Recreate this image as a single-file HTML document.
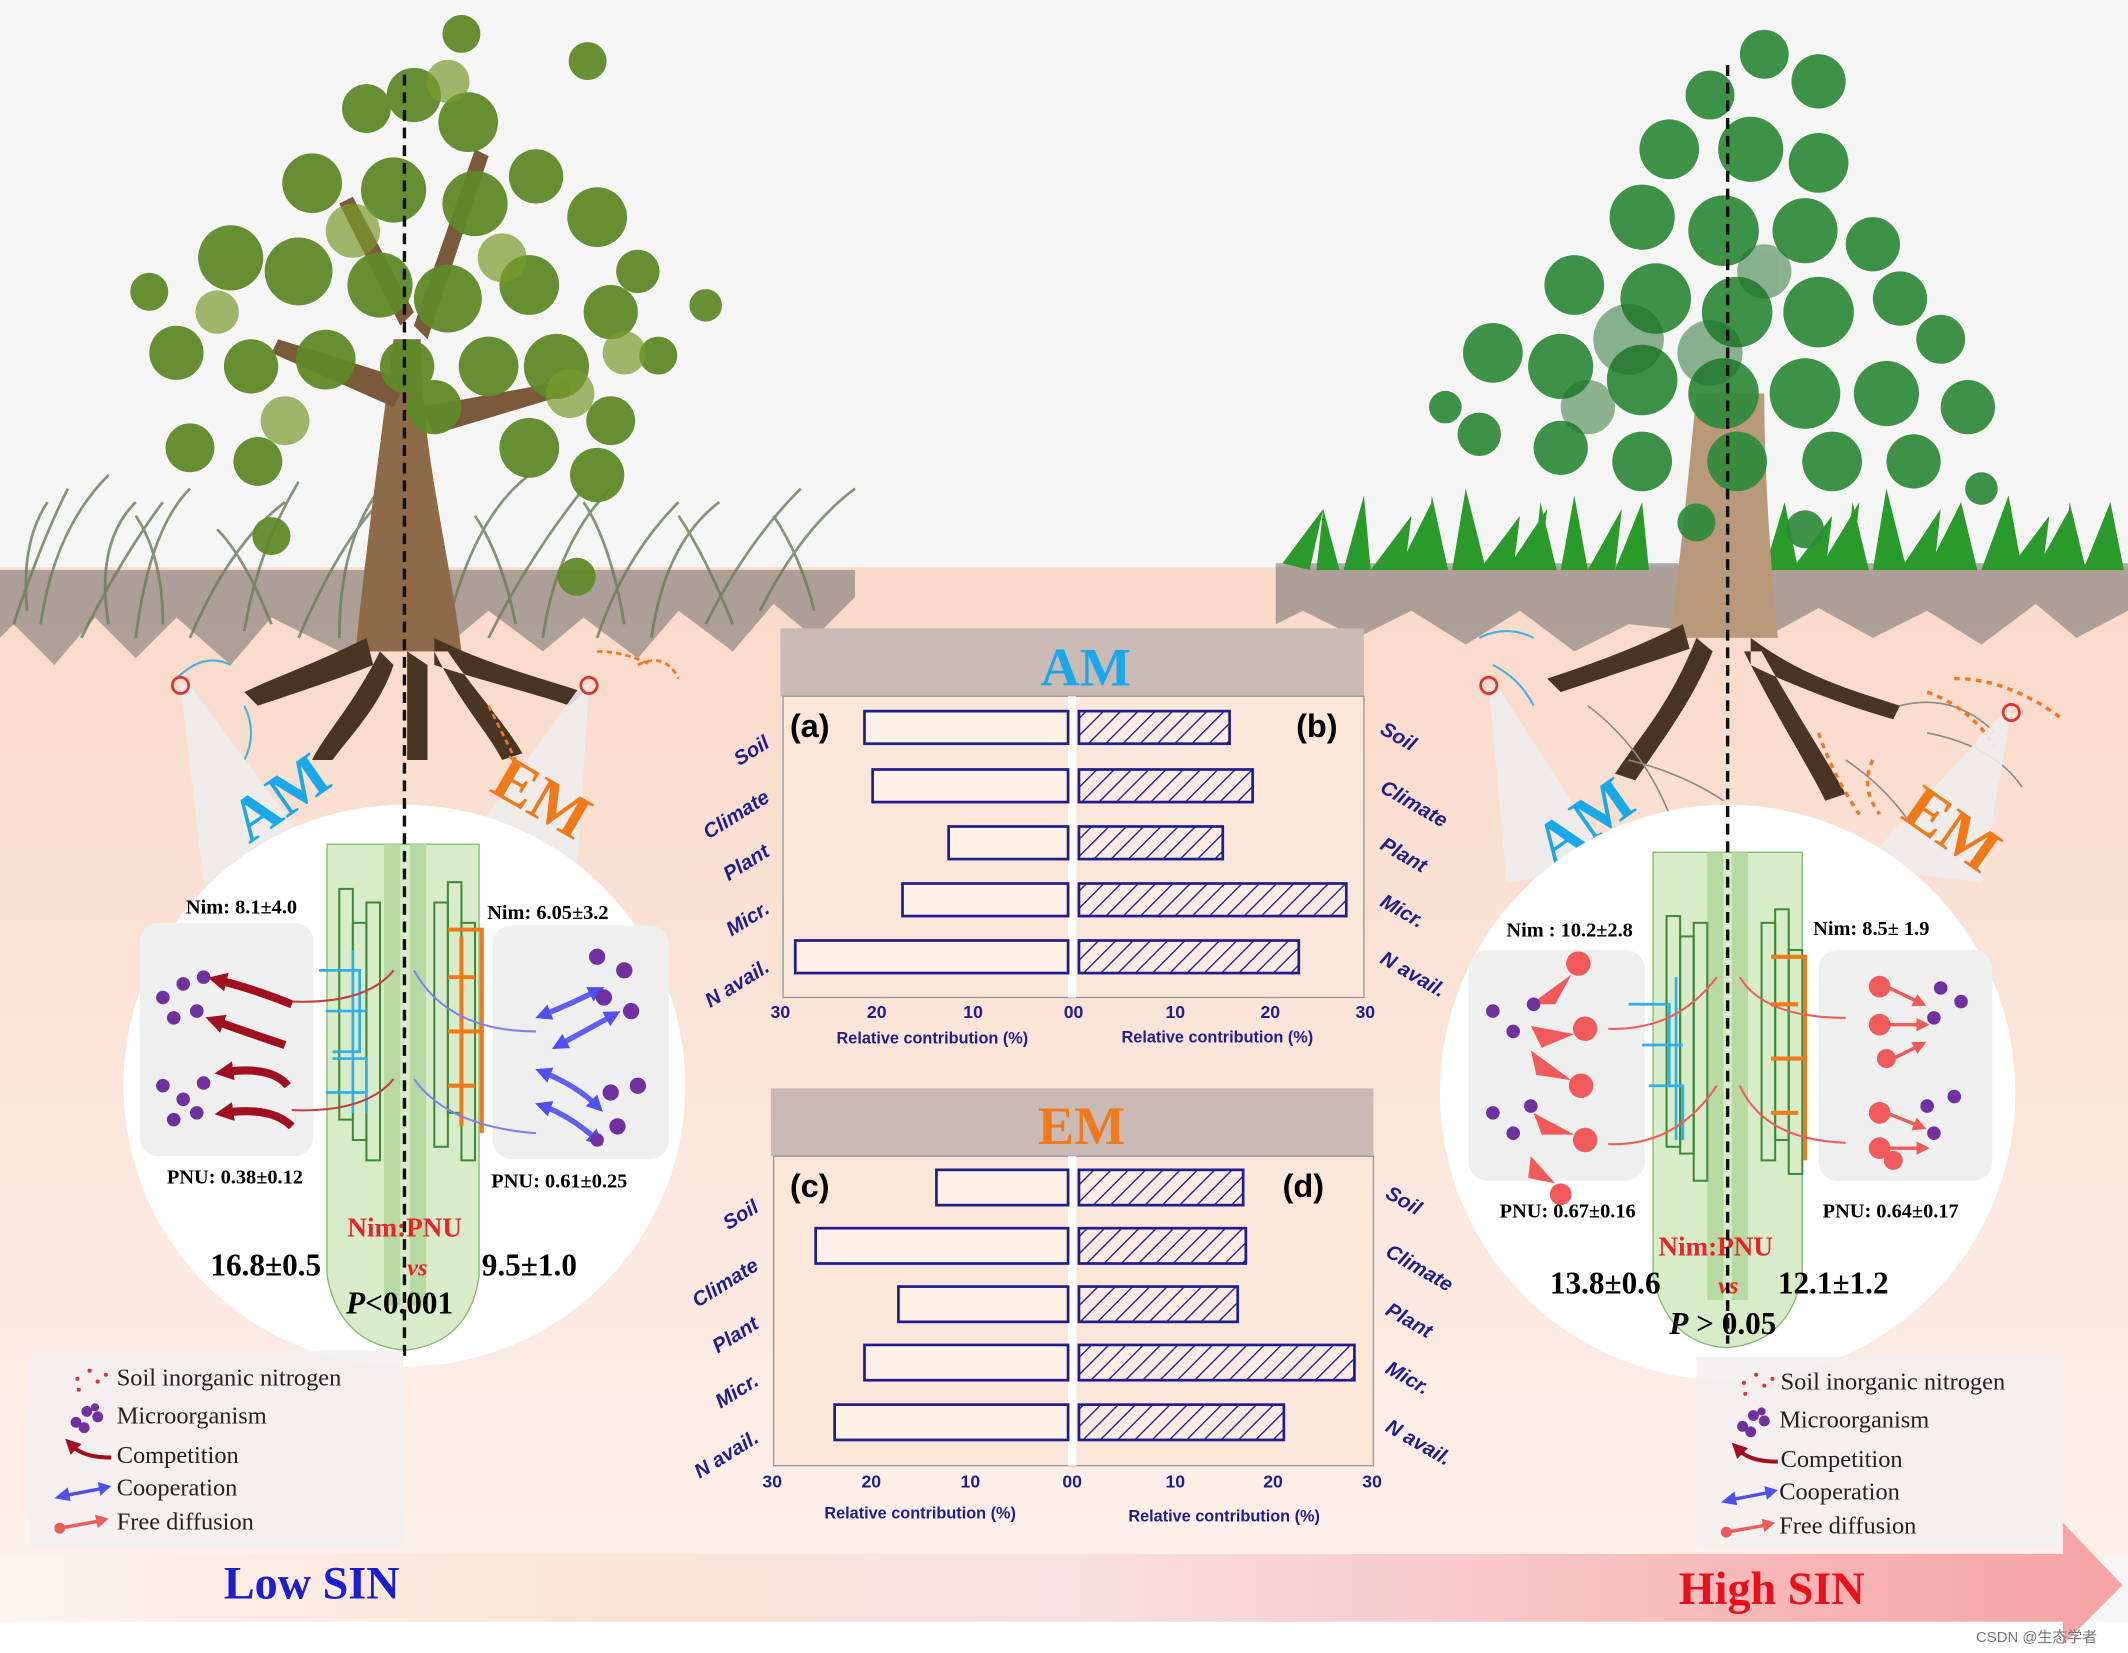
<!DOCTYPE html>
<html><head><meta charset="utf-8"><style>
html,body{margin:0;padding:0;background:#fff}
svg{display:block}
text{font-family:"Liberation Serif",serif}
.s,.s text{font-family:"Liberation Sans",sans-serif}
</style></head><body>
<svg width="2128" height="1653" viewBox="0 0 1568 1218" preserveAspectRatio="none" xmlns="http://www.w3.org/2000/svg">
<defs>
<linearGradient id="soil" x1="0" y1="0" x2="0" y2="1">
<stop offset="0" stop-color="#f9d9c9"/><stop offset="1" stop-color="#fdf0ea"/></linearGradient>
<linearGradient id="band" x1="0" y1="0" x2="1" y2="0">
<stop offset="0" stop-color="#fdf3ee"/><stop offset="0.3" stop-color="#fbe3d6"/><stop offset="0.5" stop-color="#f9e0e2"/><stop offset="1" stop-color="#f6a3a3"/></linearGradient>
<pattern id="hatch" width="9" height="9" patternUnits="userSpaceOnUse" patternTransform="rotate(45)">
<rect width="9" height="9" fill="#fdece2"/><line x1="0" y1="0" x2="0" y2="9" stroke="#1e1e8c" stroke-width="2"/></pattern>
<marker id="ar" markerUnits="userSpaceOnUse" markerWidth="14" markerHeight="14" refX="7" refY="7" orient="auto"><path d="M0,0 L14,7 L0,14 Z" fill="#a01020"/></marker>
<marker id="ab" markerUnits="userSpaceOnUse" markerWidth="12" markerHeight="12" refX="6" refY="6" orient="auto-start-reverse"><path d="M0,0 L12,6 L0,12 Z" fill="#5050f0"/></marker>
<marker id="ap" markerUnits="userSpaceOnUse" markerWidth="10" markerHeight="10" refX="5" refY="5" orient="auto"><path d="M0,0 L10,5 L0,10 Z" fill="#f05a5a"/></marker>
</defs>
<rect width="1568" height="1218" fill="#f6f5f5"/>
<rect x="0" y="418" width="1568" height="730" fill="url(#soil)"/>
<!-- grass left shadow -->
<path d="M0,420 L630,420 L630,440 L600,470 L570,445 L540,480 L500,450 L470,485 L430,455 L400,480 L360,450 L330,475 L250,480 L200,455 L170,490 L130,455 L100,485 L70,455 L40,490 L10,460 L0,470Z" fill="#6f6f6f" opacity="0.55"/>
<g stroke="#6a7a5a" stroke-width="2" fill="none" opacity="0.8">
<path d="M10,460 q20,-60 40,-100 M30,460 q10,-70 50,-110 M60,470 q30,-60 60,-100 M100,470 q10,-80 40,-110 M140,470 q30,-70 70,-100 M180,465 q10,-60 40,-110 M220,470 q30,-70 60,-100 M250,470 q0,-70 30,-110 M330,460 q20,-80 60,-110 M360,470 q30,-60 70,-110 M400,470 q10,-70 50,-110 M440,470 q20,-60 60,-100 M480,470 q10,-70 50,-100 M520,460 q30,-60 70,-100 M560,450 q30,-60 70,-90 M20,450 q-5,-50 15,-80 M80,460 q-10,-60 20,-90 M120,460 q0,-50 -20,-80 M200,460 q-20,-50 -40,-70 M380,460 q-10,-50 -30,-80 M460,460 q-10,-60 -30,-90 M540,460 q-20,-50 -40,-80 M600,450 q-10,-40 -30,-70"/>
</g>
<!-- grass right -->
<path d="M940,415 L1568,415 L1568,450 L1530,470 L1500,445 L1460,475 L1420,450 L1380,470 L1340,448 L1300,470 L1200,460 L1160,480 L1120,450 L1080,475 L1040,450 L1000,470 L960,450 L940,460Z" fill="#707070" opacity="0.55"/>
<g fill="#2a9a2a">
<path d="M945,415 l30,-40 l-10,45z M970,420 l5,-45 l12,45z M990,420 l15,-55 l5,55z M1010,420 l30,-40 l-5,40z M1030,420 l25,-50 l-5,50z M1050,420 l5,-55 l12,55z M1070,420 l10,-60 l15,60z M1090,420 l30,-40 l-5,40z M1110,420 l30,-45 l-5,45z M1130,420 l5,-50 l12,50z M1150,420 l10,-55 l10,55z M1170,420 l25,-45 l-5,45z M1190,420 l20,-50 l5,50z M1300,420 l15,-50 l10,50z M1320,420 l30,-40 l-5,40z M1340,420 l30,-50 l-5,50z M1360,420 l5,-50 l12,50z M1380,420 l10,-60 l15,60z M1400,420 l30,-45 l-5,45z M1420,420 l25,-50 l0,50z M1440,420 l5,-50 l12,50z M1460,420 l20,-55 l10,55z M1480,420 l30,-40 l-5,40z M1500,420 l25,-45 l0,45z M1520,420 l5,-50 l12,50z M1535,420 l20,-50 l10,50z"/>
</g>
<!-- left tree -->
<g fill="#7a5a3a">
<path d="M262,480 C270,400 280,330 290,250 L310,250 C310,330 330,400 340,480 Z" fill="#8e6a48"/>
<path d="M290,300 L200,260 L205,250 L300,280Z M310,300 L420,280 L420,290 L320,320Z M295,240 L250,150 L260,145 L305,230Z M305,240 L350,110 L360,115 L315,250Z"/>
</g>
<g fill="#4a3523">
<path d="M270,470 C230,490 200,500 180,510 L190,520 C220,510 250,500 275,490Z M280,480 C260,520 240,540 230,560 L245,560 C260,540 280,520 290,490Z M300,480 L300,560 L315,560 L315,490Z M320,470 C360,490 400,500 430,510 L420,520 C390,510 350,500 320,490Z M320,480 C340,520 360,540 370,560 L385,555 C370,530 350,510 330,480Z"/>
</g>
<g fill="#5f8a2a" opacity="0.95">
<circle cx="340" cy="25" r="14"/><circle cx="433" cy="45" r="14"/><circle cx="305" cy="70" r="20"/><circle cx="345" cy="90" r="22"/><circle cx="270" cy="80" r="18"/><circle cx="230" cy="135" r="22"/><circle cx="290" cy="140" r="24"/><circle cx="350" cy="150" r="24"/><circle cx="395" cy="130" r="20"/><circle cx="440" cy="160" r="22"/><circle cx="170" cy="190" r="24"/><circle cx="220" cy="200" r="25"/><circle cx="280" cy="210" r="24"/><circle cx="330" cy="220" r="25"/><circle cx="390" cy="210" r="22"/><circle cx="450" cy="230" r="20"/><circle cx="485" cy="262" r="14"/><circle cx="520" cy="225" r="12"/><circle cx="130" cy="260" r="20"/><circle cx="185" cy="270" r="20"/><circle cx="240" cy="265" r="22"/><circle cx="300" cy="270" r="20"/><circle cx="360" cy="270" r="22"/><circle cx="410" cy="270" r="24"/><circle cx="450" cy="310" r="18"/><circle cx="140" cy="330" r="18"/><circle cx="190" cy="340" r="18"/><circle cx="320" cy="300" r="20"/><circle cx="390" cy="330" r="22"/><circle cx="440" cy="350" r="20"/><circle cx="200" cy="395" r="14"/><circle cx="425" cy="425" r="14"/><circle cx="110" cy="215" r="14"/><circle cx="470" cy="200" r="16"/>
</g>
<g fill="#7a9a2e" opacity="0.7">
<circle cx="330" cy="60" r="16"/><circle cx="260" cy="170" r="20"/><circle cx="370" cy="190" r="18"/><circle cx="210" cy="310" r="18"/><circle cx="420" cy="290" r="18"/><circle cx="160" cy="230" r="16"/><circle cx="460" cy="260" r="16"/>
</g>
<!-- right tree -->
<path d="M1230,470 C1240,400 1245,340 1250,290 L1300,290 C1300,350 1305,420 1310,470 Z" fill="#b89a7a"/>
<g fill="#4a3523">
<path d="M1240,460 C1200,480 1170,490 1140,500 L1150,510 C1180,500 1210,490 1245,478Z M1250,470 C1230,520 1210,540 1190,570 L1205,575 C1225,545 1245,520 1262,480Z M1290,470 C1330,500 1370,510 1400,520 L1395,530 C1360,520 1320,505 1290,490Z M1285,480 C1310,530 1330,560 1345,590 L1360,585 C1340,550 1320,520 1298,480Z"/>
</g>
<g fill="#2f8a3a" opacity="0.92">
<circle cx="1300" cy="40" r="18"/><circle cx="1340" cy="60" r="20"/><circle cx="1260" cy="70" r="18"/><circle cx="1230" cy="110" r="22"/><circle cx="1290" cy="110" r="24"/><circle cx="1340" cy="120" r="22"/><circle cx="1210" cy="160" r="24"/><circle cx="1270" cy="170" r="26"/><circle cx="1330" cy="170" r="24"/><circle cx="1380" cy="180" r="20"/><circle cx="1160" cy="210" r="22"/><circle cx="1220" cy="220" r="26"/><circle cx="1280" cy="230" r="26"/><circle cx="1340" cy="230" r="26"/><circle cx="1400" cy="220" r="20"/><circle cx="1430" cy="250" r="18"/><circle cx="1100" cy="260" r="22"/><circle cx="1150" cy="270" r="24"/><circle cx="1210" cy="280" r="26"/><circle cx="1270" cy="290" r="26"/><circle cx="1330" cy="290" r="26"/><circle cx="1390" cy="290" r="24"/><circle cx="1450" cy="300" r="20"/><circle cx="1090" cy="320" r="16"/><circle cx="1150" cy="330" r="20"/><circle cx="1210" cy="340" r="22"/><circle cx="1280" cy="340" r="22"/><circle cx="1350" cy="340" r="22"/><circle cx="1410" cy="340" r="20"/><circle cx="1460" cy="360" r="12"/><circle cx="1250" cy="385" r="14"/><circle cx="1330" cy="390" r="14"/><circle cx="1065" cy="300" r="12"/>
</g>
<g fill="#1f6e2a" opacity="0.5">
<circle cx="1200" cy="250" r="26"/><circle cx="1260" cy="260" r="24"/><circle cx="1170" cy="300" r="20"/><circle cx="1300" cy="200" r="20"/>
</g>
<g stroke="#8a8a8a" stroke-width="1.2" fill="none">
<path d="M1170,520 q40,30 60,80 M1200,560 q40,10 70,30 M1400,520 q40,-10 70,20 M1420,540 q50,10 70,40 M1360,560 q30,20 50,50"/>
</g>
<g stroke="#f07820" stroke-width="2.5" fill="none" stroke-dasharray="4 4">
<path d="M1420,510 q30,10 50,40 M1440,500 q40,0 80,30 M1340,540 q10,30 30,60 M1380,560 q-10,20 5,40"/>
</g>
<g stroke="#40b0e0" stroke-width="1.5" fill="none"><path d="M1090,470 q20,-10 40,0 M1100,490 q20,10 30,30"/></g>
<g stroke="#40b0e0" stroke-width="1.5" fill="none"><path d="M130,500 q20,-20 40,-10 M180,520 q10,20 0,40"/></g>
<g stroke="#f07820" stroke-width="2" fill="none" stroke-dasharray="4 3"><path d="M440,480 q20,0 40,10 M470,490 q20,-10 30,10 M360,520 q10,20 20,40"/></g>
<polygon points="133,505 140,505 240,640 150,650" fill="#ececec" opacity="0.9"/>
<polygon points="434,505 428,505 345,620 425,650" fill="#ececec" opacity="0.9"/>
<polygon points="1097,505 1103,505 1190,640 1110,650" fill="#ececec" opacity="0.9"/>
<polygon points="1482,525 1476,525 1370,640 1460,650" fill="#ececec" opacity="0.9"/>
<circle cx="133" cy="505" r="6" fill="none" stroke="#e03030" stroke-width="2"/>
<circle cx="434" cy="505" r="6" fill="none" stroke="#e03030" stroke-width="2"/>
<circle cx="1097" cy="505" r="6" fill="none" stroke="#e03030" stroke-width="2"/>
<circle cx="1482" cy="525" r="6" fill="none" stroke="#e03030" stroke-width="2"/>
<text x="175" y="625" font-size="46" font-weight="bold" fill="#1aa8e8" transform="rotate(-35 175 610)">AM</text>
<text x="355" y="600" font-size="46" font-weight="bold" fill="#f07a1a" transform="rotate(30 390 600)">EM</text>
<text x="1135" y="640" font-size="46" font-weight="bold" fill="#1aa8e8" transform="rotate(-35 1140 625)">AM</text>
<text x="1390" y="618" font-size="46" font-weight="bold" fill="#f07a1a" transform="rotate(35 1420 625)">EM</text>

<!-- LEFT CIRCLE -->
<circle cx="298" cy="800" r="207" fill="#fff"/>
<rect x="103" y="680" width="128" height="172" rx="14" fill="#efefef"/>
<rect x="363" y="682" width="130" height="172" rx="14" fill="#efefef"/>
<path d="M241,622 L241,940 Q250,990 298,995 Q346,990 353,940 L353,622 Z" fill="#d9ecc9" stroke="#8ab878"/>
<rect x="283" y="622" width="12" height="340" fill="#b9d9a3"/>
<rect x="302" y="622" width="12" height="340" fill="#b9d9a3"/>
<g fill="none" stroke="#3d8a3a" stroke-width="1.5">
<rect x="250" y="655" width="10" height="170"/><rect x="260" y="680" width="10" height="160"/><rect x="270" y="665" width="10" height="190"/>
<rect x="320" y="665" width="10" height="180"/><rect x="330" y="650" width="10" height="170"/><rect x="340" y="680" width="10" height="175"/>
</g>
<g stroke="#2fb0e8" stroke-width="2" fill="none"><path d="M235,715 h30 v60 h-20 M240,745 h30 M245,780 h25 v40 M260,700 v120 M240,805 h30"/></g>
<g stroke="#f07a1a" stroke-width="3" fill="none"><path d="M330,685 h25 v150 M330,720 h20 M330,760 h25 M330,800 h20 M340,690 v140"/></g>
<g stroke="#a01020" stroke-width="6" fill="none" marker-end="url(#ar)">
<path d="M215,740 Q185,728 160,722"/><path d="M210,770 Q180,760 158,752"/><path d="M212,800 Q200,785 165,790"/><path d="M215,830 Q200,815 165,820"/>
</g>
<g stroke="#c04040" stroke-width="1.5" fill="none"><path d="M215,738 Q270,740 290,715"/><path d="M215,818 Q270,820 290,795"/></g>
<g stroke="#6060f0" stroke-width="4" fill="none" marker-start="url(#ab)" marker-end="url(#ab)">
<path d="M400,748 Q420,740 440,730"/><path d="M412,770 Q430,760 452,748"/><path d="M400,790 Q425,800 440,815"/><path d="M400,815 Q420,822 440,840"/>
</g>
<g stroke="#8080f0" stroke-width="1.5" fill="none"><path d="M305,715 Q330,760 395,760"/><path d="M305,795 Q330,830 395,835"/></g>
<g fill="#7030a0">
<circle cx="120" cy="735" r="5"/><circle cx="135" cy="725" r="5"/><circle cx="150" cy="720" r="5"/><circle cx="128" cy="750" r="5"/><circle cx="145" cy="745" r="5"/><circle cx="120" cy="800" r="5"/><circle cx="135" cy="810" r="5"/><circle cx="150" cy="798" r="5"/><circle cx="128" cy="825" r="5"/><circle cx="145" cy="820" r="5"/>
<circle cx="440" cy="705" r="6"/><circle cx="460" cy="715" r="6"/><circle cx="445" cy="735" r="6"/><circle cx="465" cy="745" r="6"/><circle cx="450" cy="805" r="6"/><circle cx="470" cy="800" r="6"/><circle cx="455" cy="830" r="6"/><circle cx="440" cy="840" r="5"/>
</g>
<text x="137" y="673" font-size="15" font-weight="bold">Nim: 8.1±4.0</text>
<text x="359" y="677" font-size="15" font-weight="bold">Nim: 6.05±3.2</text>
<text x="123" y="872" font-size="15" font-weight="bold">PNU: 0.38±0.12</text>
<text x="362" y="875" font-size="15" font-weight="bold">PNU: 0.61±0.25</text>
<text x="256" y="911" font-size="20" font-weight="bold" fill="#e8232a">Nim:PNU</text>
<text x="300" y="940" font-size="18" font-weight="bold" font-style="italic" fill="#e8232a">vs</text>
<text x="155" y="940" font-size="23" font-weight="bold">16.8±0.5</text>
<text x="355" y="940" font-size="23" font-weight="bold">9.5±1.0</text>
<text x="255" y="968" font-size="23" font-weight="bold"><tspan font-style="italic">P</tspan>&lt;0.001</text>
<line x1="298" y1="55" x2="298" y2="1000" stroke="#111" stroke-width="2.5" stroke-dasharray="8 5"/>

<!-- RIGHT CIRCLE -->
<circle cx="1273" cy="805" r="212" fill="#fff"/>
<rect x="1082" y="700" width="130" height="170" rx="14" fill="#efefef"/>
<rect x="1340" y="700" width="128" height="170" rx="14" fill="#efefef"/>
<path d="M1218,628 L1218,940 Q1228,990 1272,993 Q1318,990 1328,940 L1328,628 Z" fill="#d9ecc9" stroke="#8ab878"/>
<rect x="1258" y="628" width="12" height="330" fill="#b9d9a3"/>
<rect x="1276" y="628" width="12" height="330" fill="#b9d9a3"/>
<g fill="none" stroke="#3d8a3a" stroke-width="1.5">
<rect x="1228" y="675" width="10" height="170"/><rect x="1238" y="690" width="10" height="160"/><rect x="1248" y="680" width="10" height="190"/>
<rect x="1298" y="680" width="10" height="175"/><rect x="1308" y="670" width="10" height="170"/><rect x="1318" y="700" width="10" height="165"/>
</g>
<g stroke="#2fb0e8" stroke-width="2" fill="none"><path d="M1200,740 h30 v60 M1210,770 h30 M1215,800 h25 v40 M1235,720 v120"/></g>
<g stroke="#f07a1a" stroke-width="3" fill="none"><path d="M1305,705 h25 v150 M1305,740 h20 M1305,780 h25 M1305,820 h20"/></g>
<g fill="#f05a5a">
<circle cx="1163" cy="710" r="9"/><circle cx="1168" cy="758" r="9"/><circle cx="1165" cy="800" r="9"/><circle cx="1168" cy="840" r="9"/><circle cx="1150" cy="880" r="8"/>
<path d="M1158,718 l-30,22 l18,0z M1160,762 l-32,-6 l8,16z M1158,796 l-30,-22 l4,18z M1160,836 l-30,-16 l6,16z M1146,872 l-18,-20 l-2,16z"/>
<circle cx="1385" cy="727" r="8"/><circle cx="1385" cy="755" r="8"/><circle cx="1390" cy="780" r="7"/><circle cx="1385" cy="820" r="8"/><circle cx="1385" cy="846" r="8"/><circle cx="1395" cy="855" r="7"/>
</g>
<g stroke="#f05a5a" stroke-width="2.5" fill="none" marker-end="url(#ap)"><path d="M1390,727 l25,12"/><path d="M1392,755 l25,0"/><path d="M1395,780 l20,-10"/><path d="M1390,820 l25,10"/><path d="M1392,846 l25,0"/></g>
<g stroke="#f05a5a" stroke-width="1.5" fill="none"><path d="M1185,758 Q1235,760 1265,720"/><path d="M1185,843 Q1235,845 1265,800"/><path d="M1282,720 Q1300,750 1360,750"/><path d="M1282,800 Q1300,840 1360,842"/></g>
<g fill="#7030a0">
<circle cx="1100" cy="745" r="5"/><circle cx="1115" cy="760" r="5"/><circle cx="1130" cy="740" r="5"/><circle cx="1100" cy="820" r="5"/><circle cx="1115" cy="835" r="5"/><circle cx="1128" cy="815" r="5"/>
<circle cx="1430" cy="728" r="5"/><circle cx="1445" cy="738" r="5"/><circle cx="1425" cy="750" r="5"/><circle cx="1420" cy="815" r="5"/><circle cx="1440" cy="808" r="5"/><circle cx="1425" cy="835" r="5"/>
</g>
<text x="1110" y="690" font-size="15" font-weight="bold">Nim : 10.2±2.8</text>
<text x="1336" y="689" font-size="15" font-weight="bold">Nim: 8.5± 1.9</text>
<text x="1105" y="897" font-size="15" font-weight="bold">PNU: 0.67±0.16</text>
<text x="1343" y="897" font-size="15" font-weight="bold">PNU: 0.64±0.17</text>
<text x="1222" y="925" font-size="20" font-weight="bold" fill="#e8232a">Nim:PNU</text>
<text x="1266" y="953" font-size="18" font-weight="bold" font-style="italic" fill="#e8232a">vs</text>
<text x="1142" y="953" font-size="23" font-weight="bold">13.8±0.6</text>
<text x="1310" y="953" font-size="23" font-weight="bold">12.1±1.2</text>
<text x="1230" y="983" font-size="23" font-weight="bold"><tspan font-style="italic">P</tspan> &gt; 0.05</text>
<line x1="1273" y1="48" x2="1273" y2="990" stroke="#111" stroke-width="2.5" stroke-dasharray="8 5"/>

<!-- AM CHART -->
<rect x="575" y="463" width="430" height="50" fill="#c9bab5"/>
<text x="800" y="505" font-size="40" font-weight="bold" fill="#1aa8e8" text-anchor="middle">AM</text>
<rect x="577" y="513" width="428" height="222" fill="#fbe6da" stroke="#999" stroke-width="1"/>
<rect x="787" y="513" width="6" height="222" fill="#fff"/>
<g fill="#fdf1e8" stroke="#1e1e8c" stroke-width="2">
<rect x="637" y="524" width="150" height="24"/><rect x="643" y="567" width="144" height="24"/><rect x="699" y="609" width="88" height="24"/><rect x="665" y="651" width="122" height="24"/><rect x="586" y="693" width="201" height="24"/>
</g>
<g fill="url(#hatch)" stroke="#1e1e8c" stroke-width="2">
<rect x="795" y="524" width="111" height="24"/><rect x="795" y="567" width="128" height="24"/><rect x="795" y="609" width="106" height="24"/><rect x="795" y="651" width="197" height="24"/><rect x="795" y="693" width="162" height="24"/>
</g>
<g class="s" font-size="13" font-weight="bold" fill="#1e1e8c" text-anchor="middle">
<text x="575" y="750">30</text><text x="646" y="750">20</text><text x="717" y="750">10</text><text x="791" y="750">00</text><text x="866" y="750">10</text><text x="936" y="750">20</text><text x="1006" y="750">30</text>
<text x="687" y="769" font-size="12">Relative contribution (%)</text><text x="897" y="768" font-size="12">Relative contribution (%)</text>
</g>
<text class="s" x="582" y="543" font-size="24" font-weight="bold">(a)</text>
<text class="s" x="955" y="543" font-size="24" font-weight="bold">(b)</text>
<g class="s" font-size="15" font-weight="bold" fill="#1e1e8c" font-style="italic">
<text transform="translate(568,550) rotate(-32)" text-anchor="end">Soil</text>
<text transform="translate(568,590) rotate(-32)" text-anchor="end">Climate</text>
<text transform="translate(568,630) rotate(-32)" text-anchor="end">Plant</text>
<text transform="translate(568,672) rotate(-32)" text-anchor="end">Micr.</text>
<text transform="translate(568,715) rotate(-32)" text-anchor="end">N avail.</text>
<text transform="translate(1016,540) rotate(30)">Soil</text>
<text transform="translate(1016,583) rotate(30)">Climate</text>
<text transform="translate(1016,625) rotate(30)">Plant</text>
<text transform="translate(1016,667) rotate(30)">Micr.</text>
<text transform="translate(1016,709) rotate(30)">N avail.</text>
<text transform="translate(560,892) rotate(-32)" text-anchor="end">Soil</text>
<text transform="translate(560,935) rotate(-32)" text-anchor="end">Climate</text>
<text transform="translate(560,978) rotate(-32)" text-anchor="end">Plant</text>
<text transform="translate(560,1020) rotate(-32)" text-anchor="end">Micr.</text>
<text transform="translate(560,1062) rotate(-32)" text-anchor="end">N avail.</text>
<text transform="translate(1020,882) rotate(30)">Soil</text>
<text transform="translate(1020,925) rotate(30)">Climate</text>
<text transform="translate(1020,968) rotate(30)">Plant</text>
<text transform="translate(1020,1011) rotate(30)">Micr.</text>
<text transform="translate(1020,1054) rotate(30)">N avail.</text>
</g>
<!-- EM CHART -->
<rect x="568" y="802" width="444" height="50" fill="#c9bab5"/>
<text x="797" y="843" font-size="40" font-weight="bold" fill="#f07a1a" text-anchor="middle">EM</text>
<rect x="570" y="852" width="442" height="228" fill="#fbe6da" stroke="#999" stroke-width="1"/>
<rect x="787" y="852" width="6" height="228" fill="#fff"/>
<g fill="#fdf1e8" stroke="#1e1e8c" stroke-width="2">
<rect x="690" y="862" width="97" height="26"/><rect x="601" y="905" width="186" height="26"/><rect x="662" y="948" width="125" height="26"/><rect x="637" y="991" width="150" height="26"/><rect x="615" y="1035" width="172" height="26"/>
</g>
<g fill="url(#hatch)" stroke="#1e1e8c" stroke-width="2">
<rect x="795" y="862" width="121" height="26"/><rect x="795" y="905" width="123" height="26"/><rect x="795" y="948" width="117" height="26"/><rect x="795" y="991" width="203" height="26"/><rect x="795" y="1035" width="151" height="26"/>
</g>
<g class="s" font-size="13" font-weight="bold" fill="#1e1e8c" text-anchor="middle">
<text x="569" y="1096">30</text><text x="642" y="1096">20</text><text x="715" y="1096">10</text><text x="790" y="1096">00</text><text x="866" y="1096">10</text><text x="938" y="1096">20</text><text x="1011" y="1096">30</text>
<text x="678" y="1119" font-size="12">Relative contribution (%)</text><text x="902" y="1121" font-size="12">Relative contribution (%)</text>
</g>
<text class="s" x="582" y="882" font-size="24" font-weight="bold">(c)</text>
<text class="s" x="945" y="882" font-size="24" font-weight="bold">(d)</text>

<!-- legends -->
<rect x="22" y="995" width="275" height="145" fill="#f2f0ef" opacity="0.9"/>
<rect x="1250" y="1000" width="270" height="140" fill="#f2f0ef" opacity="0.9"/>
<g font-size="18" fill="#222">
<text x="86" y="1021">Soil inorganic nitrogen</text><text x="86" y="1049">Microorganism</text><text x="86" y="1078">Competition</text><text x="86" y="1102">Cooperation</text><text x="86" y="1127">Free diffusion</text>
<text x="1312" y="1024">Soil inorganic nitrogen</text><text x="1311" y="1052">Microorganism</text><text x="1312" y="1081">Competition</text><text x="1311" y="1105">Cooperation</text><text x="1311" y="1130">Free diffusion</text>
</g>
<g id="lg">
<g fill="#e03030"><circle cx="57" cy="1016" r="1.5"/><circle cx="66" cy="1010" r="1.5"/><circle cx="72" cy="1018" r="1.5"/><circle cx="78" cy="1013" r="1.5"/><circle cx="58" cy="1024" r="1.5"/></g>
<g fill="#7030a0"><circle cx="56" cy="1048" r="4"/><circle cx="64" cy="1040" r="4"/><circle cx="72" cy="1044" r="4"/><circle cx="62" cy="1052" r="4"/><circle cx="70" cy="1037" r="3"/></g>
<path d="M82,1074 Q62,1074 54,1066" stroke="#a01020" stroke-width="3" fill="none"/>
<path d="M48,1060 L60,1064 L52,1072Z" fill="#a01020"/>
<path d="M48,1102 L74,1097" stroke="#5050f0" stroke-width="2.5" fill="none"/>
<path d="M40,1104 L50,1096 L52,1106Z M82,1095 L72,1092 L74,1102Z" fill="#5050f0"/>
<circle cx="44" cy="1126" r="4" fill="#f05a5a"/><path d="M44,1126 L72,1121" stroke="#f05a5a" stroke-width="2.5"/>
<path d="M80,1119 L70,1116 L72,1126Z" fill="#f05a5a"/>
</g>
<use href="#lg" transform="translate(1228,3)"/>

<!-- bottom band -->
<rect x="0" y="1195" width="1568" height="23" fill="#fff"/>
<path d="M0,1145 L1520,1145 L1520,1122 L1564,1168 L1520,1212 L1520,1195 L0,1195 Z" fill="url(#band)"/>
<text x="165" y="1178" font-size="34" font-weight="bold" fill="#1c1cd0">Low SIN</text>
<text x="1237" y="1182" font-size="34" font-weight="bold" fill="#e8101a">High SIN</text>
<text class="s" x="1456" y="1210" font-size="11" fill="#777">CSDN @生态学者</text>
</svg>
</body></html>
